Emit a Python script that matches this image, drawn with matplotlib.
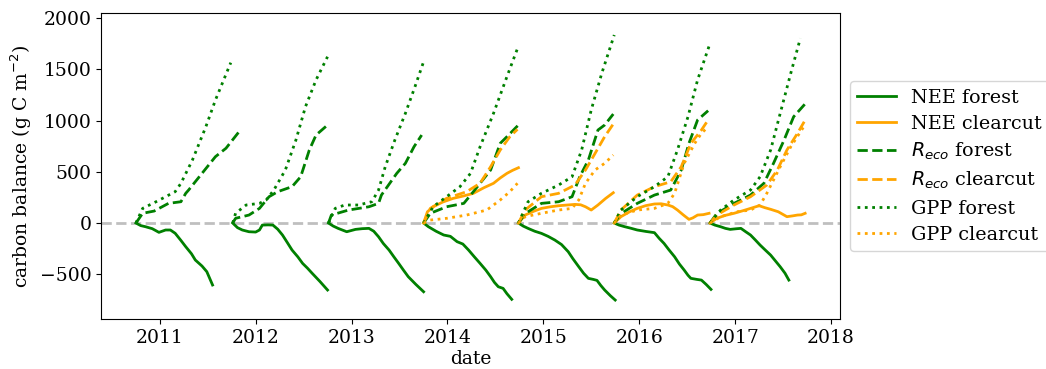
import matplotlib
matplotlib.use("Agg")
import matplotlib.pyplot as plt
import matplotlib.dates as mdates
import pandas as pd

# Cumulative carbon balance per measurement year (time in decimal years, values in g C m-2)
# Forest: 7 seasons (2010/11 ... 2016/17); clearcut: 4 seasons (2013/14 ... 2016/17)

nee_forest_t = [
    [2010.75, 2010.80, 2010.85, 2010.92, 2010.99, 2011.06, 2011.11, 2011.16, 2011.22, 2011.27, 2011.33, 2011.37, 2011.44, 2011.49, 2011.55],
    [2011.76, 2011.81, 2011.86, 2011.93, 2012.00, 2012.04, 2012.07, 2012.13, 2012.18, 2012.23, 2012.28, 2012.33, 2012.38, 2012.44, 2012.49, 2012.54, 2012.59, 2012.67, 2012.75],
    [2012.76, 2012.81, 2012.86, 2012.95, 2013.04, 2013.11, 2013.18, 2013.23, 2013.28, 2013.33, 2013.39, 2013.44, 2013.49, 2013.54, 2013.59, 2013.67, 2013.75],
    [2013.75, 2013.80, 2013.88, 2013.96, 2014.03, 2014.10, 2014.16, 2014.22, 2014.28, 2014.34, 2014.40, 2014.45, 2014.49, 2014.53, 2014.58, 2014.62, 2014.67],
    [2014.74, 2014.79, 2014.84, 2014.91, 2014.98, 2015.05, 2015.12, 2015.19, 2015.26, 2015.31, 2015.37, 2015.42, 2015.47, 2015.52, 2015.56, 2015.60, 2015.64, 2015.70, 2015.75],
    [2015.74, 2015.79, 2015.85, 2015.91, 2015.98, 2016.07, 2016.16, 2016.21, 2016.26, 2016.31, 2016.37, 2016.42, 2016.47, 2016.51, 2016.54, 2016.60, 2016.65, 2016.70, 2016.75],
    [2016.74, 2016.79, 2016.85, 2016.90, 2016.95, 2017.01, 2017.06, 2017.11, 2017.16, 2017.21, 2017.26, 2017.31, 2017.37, 2017.42, 2017.47, 2017.52, 2017.56],
]
nee_forest_v = [
    [0, -25, -36, -55, -91, -68, -68, -100, -170, -231, -300, -361, -420, -475, -605],
    [0, -45, -68, -85, -88, -68, -20, -18, -20, -60, -117, -190, -264, -330, -394, -440, -491, -570, -654],
    [0, -30, -52, -85, -62, -55, -52, -80, -134, -200, -264, -330, -394, -460, -524, -600, -671],
    [0, -36, -80, -117, -130, -182, -205, -264, -330, -394, -460, -524, -580, -622, -638, -690, -745],
    [0, -30, -52, -80, -101, -130, -166, -210, -280, -350, -427, -490, -540, -550, -560, -610, -654, -710, -752],
    [0, -20, -36, -50, -68, -82, -94, -150, -199, -260, -329, -400, -459, -510, -540, -550, -557, -600, -648],
    [0, -20, -36, -52, -62, -56, -52, -85, -117, -165, -215, -260, -313, -370, -427, -490, -557],
]

reco_forest_t = [
    [2010.75, 2010.82, 2010.94, 2011.09, 2011.22, 2011.27, 2011.30, 2011.44, 2011.58, 2011.69, 2011.84],
    [2011.76, 2011.79, 2011.93, 2012.04, 2012.14, 2012.23, 2012.38, 2012.47, 2012.56, 2012.63, 2012.75],
    [2012.76, 2012.79, 2012.97, 2013.18, 2013.28, 2013.31, 2013.47, 2013.56, 2013.65, 2013.73],
    [2013.75, 2013.82, 2013.99, 2014.17, 2014.27, 2014.45, 2014.55, 2014.62, 2014.75],
    [2014.74, 2014.81, 2014.98, 2015.16, 2015.30, 2015.38, 2015.47, 2015.57, 2015.64, 2015.73],
    [2015.74, 2015.81, 2015.98, 2016.16, 2016.33, 2016.44, 2016.52, 2016.61, 2016.72],
    [2016.74, 2016.81, 2016.99, 2017.16, 2017.30, 2017.40, 2017.51, 2017.61, 2017.75],
]
reco_forest_v = [
    [0, 95, 117, 192, 208, 290, 322, 485, 648, 730, 908],
    [0, 46, 78, 143, 257, 306, 355, 452, 713, 859, 957],
    [0, 78, 127, 159, 192, 273, 485, 583, 745, 859],
    [0, 95, 159, 192, 306, 518, 778, 843, 967],
    [0, 92, 192, 208, 257, 452, 615, 908, 957, 1064],
    [0, 92, 192, 273, 322, 518, 778, 1006, 1097],
    [0, 92, 192, 273, 388, 583, 810, 1038, 1185],
]

gpp_forest_t = [
    [2010.75, 2010.82, 2010.96, 2011.16, 2011.22, 2011.34, 2011.48, 2011.58, 2011.74],
    [2011.76, 2011.79, 2011.90, 2012.04, 2012.11, 2012.19, 2012.31, 2012.42, 2012.52, 2012.63, 2012.75],
    [2012.76, 2012.83, 2012.93, 2013.07, 2013.21, 2013.28, 2013.35, 2013.45, 2013.56, 2013.66, 2013.75],
    [2013.75, 2013.85, 2013.99, 2014.13, 2014.24, 2014.34, 2014.48, 2014.62, 2014.74],
    [2014.74, 2014.84, 2014.98, 2015.16, 2015.30, 2015.40, 2015.50, 2015.61, 2015.74],
    [2015.74, 2015.81, 2015.98, 2016.16, 2016.30, 2016.40, 2016.51, 2016.61, 2016.74],
    [2016.74, 2016.85, 2016.99, 2017.16, 2017.26, 2017.37, 2017.47, 2017.58, 2017.68],
]
gpp_forest_v = [
    [0, 143, 208, 306, 388, 615, 940, 1201, 1566],
    [0, 95, 176, 192, 225, 322, 518, 810, 1136, 1397, 1624],
    [0, 143, 176, 176, 208, 322, 550, 810, 1071, 1331, 1575],
    [0, 159, 257, 355, 485, 745, 1071, 1429, 1729],
    [0, 208, 290, 371, 452, 713, 1104, 1462, 1836],
    [0, 127, 257, 355, 452, 713, 1038, 1397, 1755],
    [0, 127, 225, 322, 452, 713, 1071, 1462, 1804],
]

nee_clearcut_t = [
    [2013.75, 2013.79, 2013.85, 2013.95, 2014.06, 2014.17, 2014.27, 2014.38, 2014.48, 2014.55, 2014.62, 2014.68, 2014.74],
    [2014.74, 2014.81, 2014.90, 2014.98, 2015.07, 2015.16, 2015.25, 2015.33, 2015.39, 2015.44, 2015.50, 2015.57, 2015.65, 2015.73],
    [2015.74, 2015.81, 2015.90, 2015.98, 2016.07, 2016.16, 2016.23, 2016.30, 2016.35, 2016.40, 2016.46, 2016.52, 2016.56, 2016.61, 2016.67, 2016.73],
    [2016.74, 2016.81, 2016.90, 2016.99, 2017.08, 2017.16, 2017.25, 2017.31, 2017.37, 2017.45, 2017.54, 2017.60, 2017.65, 2017.69, 2017.73],
]
nee_clearcut_v = [
    [0, 110, 159, 205, 241, 265, 290, 345, 388, 440, 485, 515, 540],
    [0, 78, 115, 143, 158, 169, 176, 182, 178, 159, 127, 176, 240, 296],
    [0, 62, 110, 143, 170, 186, 188, 176, 160, 127, 80, 36, 50, 78, 82, 95],
    [0, 46, 75, 95, 120, 143, 169, 150, 134, 110, 62, 70, 78, 80, 95],
]

reco_clearcut_t = [
    [2013.75, 2013.82, 2013.99, 2014.20, 2014.34, 2014.45, 2014.55, 2014.65, 2014.73],
    [2014.74, 2014.81, 2014.98, 2015.16, 2015.33, 2015.44, 2015.54, 2015.64, 2015.73],
    [2015.74, 2015.81, 2015.98, 2016.16, 2016.33, 2016.44, 2016.54, 2016.65, 2016.72],
    [2016.74, 2016.81, 2016.99, 2017.16, 2017.33, 2017.44, 2017.54, 2017.65, 2017.72],
]
reco_clearcut_v = [
    [0, 143, 241, 306, 388, 550, 713, 843, 915],
    [0, 127, 257, 290, 371, 518, 680, 843, 967],
    [0, 127, 273, 355, 403, 550, 778, 908, 1006],
    [0, 78, 176, 257, 371, 518, 713, 876, 989],
]

gpp_clearcut_t = [
    [2013.75, 2013.82, 2013.99, 2014.20, 2014.41, 2014.55, 2014.65, 2014.73],
    [2014.74, 2014.81, 2014.98, 2015.16, 2015.30, 2015.37, 2015.44, 2015.54, 2015.64, 2015.73],
    [2015.74, 2015.81, 2015.98, 2016.16, 2016.30, 2016.37, 2016.47, 2016.58, 2016.65, 2016.72],
    [2016.74, 2016.85, 2017.02, 2017.16, 2017.26, 2017.33, 2017.47, 2017.58, 2017.72],
]
gpp_clearcut_v = [
    [0, 29, 46, 78, 127, 225, 306, 388],
    [0, 62, 95, 127, 143, 225, 388, 518, 583, 664],
    [0, 78, 127, 143, 192, 290, 583, 778, 876, 940],
    [0, 62, 110, 127, 176, 290, 550, 745, 947],
]


def to_dates(years):
    """Convert decimal years to timestamps."""
    out = []
    for y in years:
        yr = int(y)
        out.append(pd.Timestamp(yr, 1, 1) + pd.Timedelta(days=(y - yr) * 365.25))
    return out


plt.rcParams["font.family"] = "DejaVu Serif"
plt.rcParams["font.size"] = 13.5
plt.rcParams["mathtext.fontset"] = "dejavusans"

fig = plt.figure(figsize=(10.46, 3.69), dpi=100)
ax = fig.add_axes([0.0966, 0.1355, 0.7066, 0.8285])

series = [
    (nee_forest_t, nee_forest_v, "green", "-", "NEE forest"),
    (nee_clearcut_t, nee_clearcut_v, "orange", "-", "NEE clearcut"),
    (reco_forest_t, reco_forest_v, "green", "--", "$R_{eco}$ forest"),
    (reco_clearcut_t, reco_clearcut_v, "orange", "--", "$R_{eco}$ clearcut"),
    (gpp_forest_t, gpp_forest_v, "green", ":", "GPP forest"),
    (gpp_clearcut_t, gpp_clearcut_v, "orange", ":", "GPP clearcut"),
]

for times, values, color, ls, label in series:
    for i, (t, v) in enumerate(zip(times, values)):
        ax.plot(to_dates(t), v, color=color, linestyle=ls, linewidth=2,
                label=label if i == 0 else None)

ax.axhline(0, color="grey", alpha=0.5, linestyle="--", linewidth=2, zorder=0)

ax.set_xlim(pd.Timestamp("2010-05-22"), pd.Timestamp("2018-02-05"))
ax.set_ylim(-937, 2048)
ax.xaxis.set_major_locator(mdates.YearLocator())
ax.xaxis.set_major_formatter(mdates.DateFormatter("%Y"))
ax.set_yticks([-500, 0, 500, 1000, 1500, 2000])
ax.set_xlabel("date", labelpad=2)
ax.set_ylabel("carbon balance (g C m$^{-2}$)")

ax.legend(loc="center left", bbox_to_anchor=(1.0, 0.5), fontsize=13.8,
          labelspacing=0.42, handlelength=2.0, handletextpad=0.8)

fig.savefig("out.png", dpi=100)
